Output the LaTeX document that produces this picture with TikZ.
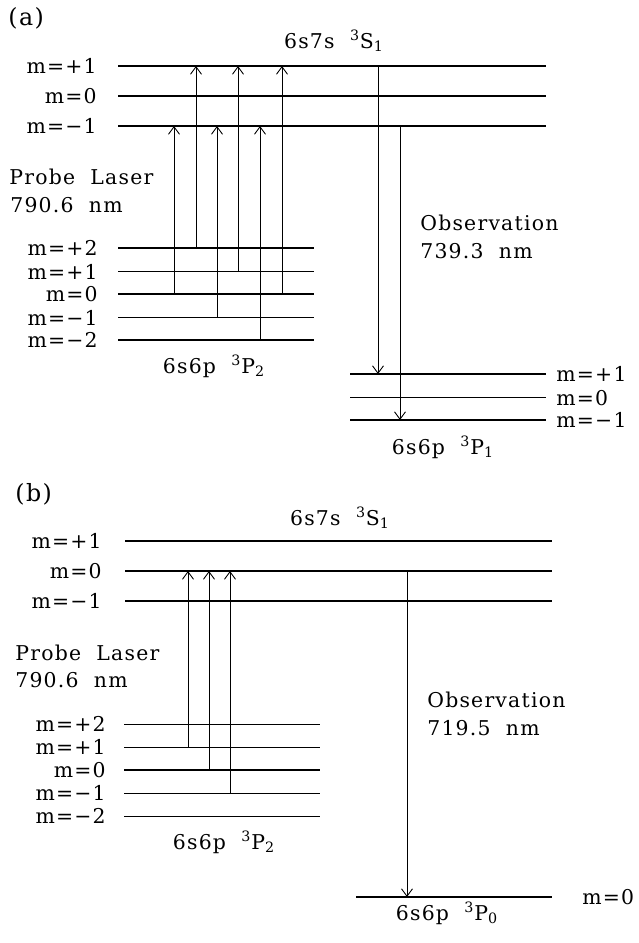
\documentclass[tikz,border=0pt]{standalone}
\usepackage{fontspec}
\setmainfont{DejaVu Serif}[LetterSpace=6]
\usetikzlibrary{arrows.meta}

\begin{document}
\begin{tikzpicture}[x=0.2mm,y=-0.2mm,
  level/.style={line width=0.6pt},
  trans/.style={-{Straight Barb[length=1.5mm,width=2.2mm]},line width=0.5pt},
  lab/.style={inner sep=0pt,font=\fontsize{11.6}{14}\selectfont},
  mlab/.style={lab,anchor=base east},
  rlab/.style={lab,anchor=base west},
  term/.style={lab,anchor=base},
  panel/.style={rlab,font=\fontsize{13.5}{16}\selectfont}
]
\useasboundingbox (0,0) rectangle (638,943);
% ---------- (a) ----------
\node[panel] (pa) at (8,25) {(a)};
\node[term] (sa) at (334,48) {6s7s\ \ \textsuperscript{3}S\textsubscript{1}};
\foreach \lv/\y/\t in {p1/66/+1,z/96/0,m1/126/−1}{
  \draw[level] (118,\y) coordinate (aS\lv) -- (546,\y);
  \node[mlab] (aSl\lv) at (97,\y+7.5) {m=\t};
}
\foreach \lv/\y/\t in {p2/248/+2,p1/271.5/+1,z/294/0,m1/317.5/−1,m2/340/−2}{
  \draw[level] (118,\y) coordinate (aP\lv) -- (314,\y);
  \node[mlab] (aPl\lv) at (98,\y+7.5) {m=\t};
}
\foreach \lv/\y/\t in {p1/374/+1,z/397.5/0,m1/420/−1}{
  \draw[level] (350,\y) coordinate (aQ\lv) -- (546,\y);
  \node[rlab] (aQl\lv) at (556,\y+7.5) {m=\t};
}
\node[term] (pa2) at (214,373) {6s6p\ \ \textsuperscript{3}P\textsubscript{2}};
\node[term] (pa1) at (443,454) {6s6p\ \ \textsuperscript{3}P\textsubscript{1}};
\node[rlab] (proba) at (9,184) {Probe\ \ Laser};
\node[rlab] (wla) at (10,212) {790.6\ \ nm};
\node[rlab] (obsa) at (420,230) {Observation};
\node[rlab] (wloa) at (420,258) {739.3\ \ nm};
\foreach \x/\f/\t in {174/aPz/aSm1,196/aPp2/aSp1,217/aPm1/aSm1,238/aPp1/aSp1,
                      260/aPm2/aSm1,282/aPz/aSp1,378/aSp1/aQp1,400/aSm1/aQm1}{
  \coordinate (ax) at (\x,0);
  \draw[trans] (ax |- \f) -- (ax |- \t);
}
% ---------- (b) ----------
\node[panel] (pb) at (15,501) {(b)};
\node[term] (sb) at (340,525) {6s7s\ \ \textsuperscript{3}S\textsubscript{1}};
\foreach \lv/\y/\t in {p1/541/+1,z/571/0,m1/601/−1}{
  \draw[level] (125,\y) coordinate (bS\lv) -- (552,\y);
  \node[mlab] (bSl\lv) at (102,\y+7) {m=\t};
}
\foreach \lv/\y/\t in {p2/724.5/+2,p1/747.5/+1,z/770/0,m1/793.5/−1,m2/816.5/−2}{
  \draw[level] (124,\y) coordinate (bP\lv) -- (320,\y);
  \node[mlab] (bPl\lv) at (106,\y+7) {m=\t};
}
\draw[level] (356,897) coordinate (bQz) -- (552,897);
\node[rlab] (bQlz) at (582,904) {m=0};
\node[term] (pb2) at (224,849) {6s6p\ \ \textsuperscript{3}P\textsubscript{2}};
\node[term] (pb0) at (447,920) {6s6p\ \ \textsuperscript{3}P\textsubscript{0}};
\node[rlab] (probb) at (15,660) {Probe\ \ Laser};
\node[rlab] (wlb) at (15,687) {790.6\ \ nm};
\node[rlab] (obsb) at (427,707) {Observation};
\node[rlab] (wlob) at (427,735) {719.5\ \ nm};
\foreach \x/\f/\t in {188/bPp1/bSz,209/bPz/bSz,230/bPm1/bSz,407/bSz/bQz}{
  \coordinate (bx) at (\x,0);
  \draw[trans] (bx |- \f) -- (bx |- \t);
}
\end{tikzpicture}
\end{document}
